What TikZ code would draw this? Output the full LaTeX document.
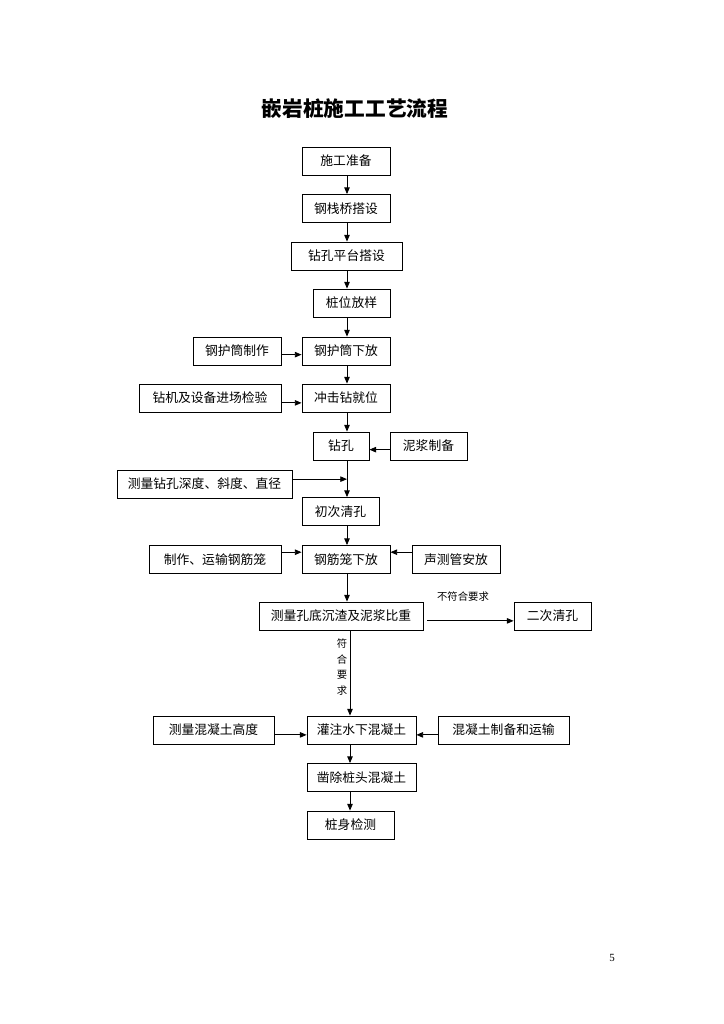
\documentclass[tikz,border=0pt]{standalone}
\usepackage{fontspec}
\setmainfont{Liberation Serif}
\newfontfamily\cjk{Noto Sans CJK SC}
\usetikzlibrary{arrows.meta}

\begin{document}
\begin{tikzpicture}[
  x=0.8222pt,
  y=-0.8222pt,
  every node/.style={font=\cjk\fontsize{10.5}{12}\selectfont, inner sep=0pt},
  box/.style={draw, line width=0.7pt, minimum height=23pt},
  flow/.style={line width=0.7pt, -{Triangle[length=5.5pt, width=4.5pt]}},
  note/.style={font=\cjk\fontsize{8.5}{12.8}\selectfont}
]
  % ---- page frame, A4 in pixel units of the scan ----
  \useasboundingbox (0,0) rectangle (724,1024);

  % ---- title ----
  \node[font=\cjk\bfseries\fontsize{17}{20}\selectfont] (title) at (355,109)
    {嵌岩桩施工工艺流程};

  % ---- main column ----
  \coordinate (spine) at (347,0);
  \coordinate (spinelow) at (350,0);
  \node[box, minimum width=72.4pt]  (prep)        at (346,161)   {施工准备};
  \node[box, minimum width=72.4pt]  (trestle)     at (346,208.5) {钢栈桥搭设};
  \node[box, minimum width=91.3pt]  (platform)    at (346.5,256) {钻孔平台搭设};
  \node[box, minimum width=63.3pt]  (stakeout)    at (351.5,303) {桩位放样};
  \node[box, minimum width=72.4pt]  (casingdown)  at (346,351)   {钢护筒下放};
  \node[box, minimum width=72.4pt]  (rig)         at (346,398)   {冲击钻就位};
  \node[box, minimum width=46pt]    (drill)       at (341,446)   {钻孔};
  \node[box, minimum width=63.3pt]  (firstclean)  at (340.5,511.5) {初次清孔};
  \node[box, minimum width=72.4pt]  (cage)        at (346,559.5) {钢筋笼下放};
  \node[box, minimum width=134.8pt] (slag)        at (341,616)   {测量孔底沉渣及泥浆比重};
  \node[box, minimum width=89.6pt]  (pour)        at (361.5,730) {灌注水下混凝土};
  \node[box, minimum width=89.6pt]  (chisel)      at (361.5,777.5) {凿除桩头混凝土};
  \node[box, minimum width=71.5pt]  (pilecheck)   at (350.5,825) {桩身检测};

  % ---- side inputs ----
  \node[box, minimum width=72.4pt]  (casingmake)  at (237,351)   {钢护筒制作};
  \node[box, minimum width=116.8pt] (rigcheck)    at (210,398)   {钻机及设备进场检验};
  \node[box, minimum width=63.3pt]  (mud)         at (428.5,446) {泥浆制备};
  \node[box, minimum width=143.9pt] (depth)       at (204.5,484) {测量钻孔深度、斜度、直径};
  \node[box, minimum width=108.5pt] (cagemake)    at (215,559.5) {制作、运输钢筋笼};
  \node[box, minimum width=72.4pt]  (sonic)       at (456,559.5) {声测管安放};
  \node[box, minimum width=63.3pt]  (secondclean) at (552.5,616) {二次清孔};
  \node[box, minimum width=99.5pt]  (concheight)  at (213.5,730) {测量混凝土高度};
  \node[box, minimum width=107.7pt] (concmake)    at (503.5,730) {混凝土制备和运输};

  % ---- main flow ----
  \draw[flow] (spine |- prep.south)       -- (spine |- trestle.north);
  \draw[flow] (spine |- trestle.south)    -- (spine |- platform.north);
  \draw[flow] (spine |- platform.south)   -- (spine |- stakeout.north);
  \draw[flow] (spine |- stakeout.south)   -- (spine |- casingdown.north);
  \draw[flow] (spine |- casingdown.south) -- (spine |- rig.north);
  \draw[flow] (spine |- rig.south)        -- (spine |- drill.north);
  \draw[flow] (spine |- drill.south)      -- (spine |- firstclean.north);
  \draw[flow] (spine |- firstclean.south) -- (spine |- cage.north);
  \draw[flow] (spine |- cage.south)       -- (spine |- slag.north);
  \draw[flow] (spinelow |- slag.south)    -- (spinelow |- pour.north);
  \draw[flow] (spinelow |- pour.south)    -- (spinelow |- chisel.north);
  \draw[flow] (spinelow |- chisel.south)  -- (spinelow |- pilecheck.north);

  % ---- side arrows ----
  \draw[flow] ([yshift=-3pt]casingmake.east) -- ([yshift=-3pt]casingdown.west);
  \draw[flow] ([yshift=-4pt]rigcheck.east)   -- ([yshift=-4pt]rig.west);
  \draw[flow] ([yshift=-3pt]mud.west)        -- ([yshift=-3pt]drill.east);
  \draw[flow] ([yshift=4pt]depth.east)       -- ([yshift=4pt]depth.east -| spine);
  \draw[flow] ([yshift=6pt]cagemake.east)    -- ([yshift=6pt]cage.west);
  \draw[flow] ([yshift=6pt]sonic.west)       -- ([yshift=6pt]cage.east);
  \draw[flow] ([xshift=3pt, yshift=-4pt]slag.east) -- ([yshift=-4pt]secondclean.west);
  \draw[flow] ([yshift=-4pt]concheight.east) -- ([yshift=-4pt]pour.west);
  \draw[flow] ([yshift=-4pt]concmake.west)   -- ([yshift=-4pt]pour.east);

  % ---- branch labels ----
  \node[note] (nogood) at (463,597) {不符合要求};
  \node[note, align=center] (good) at (342,667) {符\\合\\要\\求};

  % ---- page number ----
  \node[font=\rmfamily\fontsize{9}{10}\selectfont] (pagenum) at (612,958) {5};
\end{tikzpicture}
\end{document}
